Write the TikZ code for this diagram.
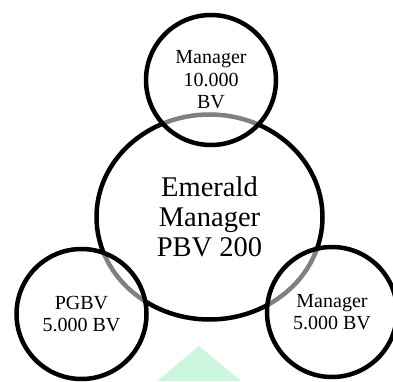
\documentclass[tikz,border=0pt]{standalone}
\usepackage{fontspec}
\setmainfont{Liberation Serif}
\usepackage{xcolor}
\definecolor{mint}{HTML}{CDF6DF}
\usetikzlibrary{%
    shapes,
    shapes.geometric,
    positioning,
    calc
}

\begin{document}
\begin{tikzpicture}[x=1pt, y=1pt,
                centre/.style={ellipse, draw, line width=4.5pt, minimum width=226pt, minimum height=205pt, inner sep=0pt, text centered, align=center, font=\fontsize{28.5}{30}\selectfont},
                member/.style={circle, draw, line width=4.5pt, minimum size=130pt, inner sep=0pt, fill=white, fill opacity=0.5, text opacity=1, text centered, align=center, font=\fontsize{20}{22.5}\selectfont}
            ]

            \useasboundingbox (0,0) rectangle (393,381);

            % faint mark at the bottom
            \fill [mint] (157,0) -- (199,35) -- (241,0) -- cycle;

            \node (emerald) at (209.5,164) [centre] {Emerald \\ Manager \\ PBV 200};

            \node (mgrtop) at (211,301) [member] {Manager \\ 10.000 \\ BV};
            \node (pgbv) at (81.5,67) [member] {PGBV \\ 5.000 BV};
            \node (mgrright) at (332,69) [member] {Manager \\ 5.000 BV};
        \end{tikzpicture}
\end{document}
